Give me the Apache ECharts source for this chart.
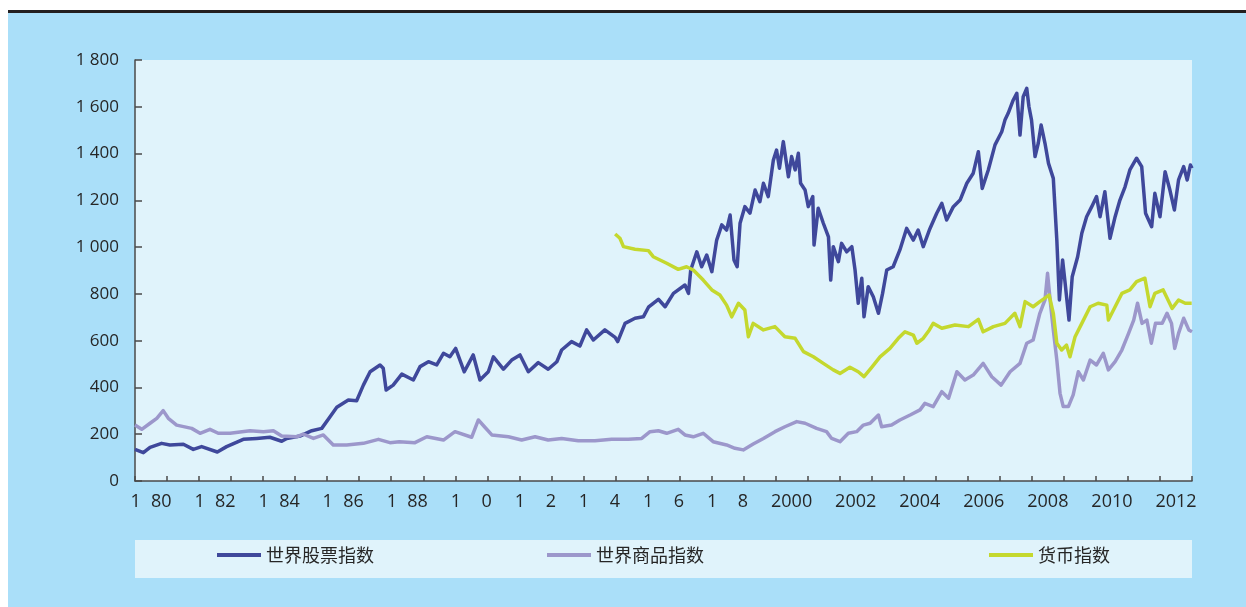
<!DOCTYPE html>
<html>
<head>
<meta charset="utf-8">
<script src="https://cdn.jsdelivr.net/npm/echarts@6/dist/echarts.min.js"></script>
<style>
  html, body { margin: 0; padding: 0; background: #ffffff; }
  #chart { width: 1246px; height: 607px; }
</style>
</head>
<body>
<div id="chart"></div>
<script>
// Calendar years shown as bands on the horizontal axis
const years = [];
for (let y = 1980; y <= 2012; y++) years.push(String(y));

// Labels printed under every second band (as typeset, with blank figures)
const yearLabels = {
  '1980': '1\u200780', '1982': '1\u200782', '1984': '1\u200784', '1986': '1\u200786', '1988': '1\u200788',
  '1990': '1\u2007\u20070', '1992': '1\u2007\u20072', '1994': '1\u2007\u20074', '1996': '1\u2007\u20076', '1998': '1\u2007\u20078',
  '2000': '2000', '2002': '2002', '2004': '2004', '2006': '2006', '2008': '2008', '2010': '2010', '2012': '2012'
};

const yTickLabels = ['0', '200', '400', '600', '800', '1 000', '1 200', '1 400', '1 600', '1 800'];

const seriesNames = ['世界股票指数', '世界商品指数', '货币指数'];

// [year, index level]
const stockIndex = [
  [1980.00,135],[1980.26,121],[1980.47,144],[1980.83,161],[1981.09,154],[1981.51,157],[1981.82,135],[1982.08,147],
  [1982.57,124],[1982.86,147],[1983.38,178],[1983.80,182],[1984.21,187],[1984.58,170],[1984.74,182],[1985.15,192],
  [1985.52,215],[1985.83,225],[1986.09,275],[1986.30,315],[1986.66,346],[1986.92,343],[1987.13,410],[1987.34,467],
  [1987.65,496],[1987.75,482],[1987.84,389],[1988.06,410],[1988.33,457],[1988.69,432],[1988.90,489],[1989.16,510],
  [1989.42,496],[1989.63,546],[1989.83,531],[1990.01,567],[1990.28,467],[1990.56,539],[1990.77,432],[1991.03,467],
  [1991.19,531],[1991.50,478],[1991.76,517],[1992.02,539],[1992.28,467],[1992.59,506],[1992.90,478],[1993.17,510],
  [1993.32,560],[1993.63,596],[1993.89,577],[1994.10,646],[1994.31,603],[1994.67,646],[1994.99,614],[1995.07,596],
  [1995.30,674],[1995.61,696],[1995.87,702],[1996.03,743],[1996.34,777],[1996.55,745],[1996.81,802],[1997.17,838],
  [1997.28,802],[1997.35,902],[1997.54,980],[1997.69,916],[1997.85,966],[1998.01,895],[1998.16,1030],[1998.32,1095],
  [1998.47,1073],[1998.58,1137],[1998.70,945],[1998.80,916],[1998.89,1102],[1999.04,1173],[1999.20,1145],[1999.36,1244],
  [1999.51,1194],[1999.62,1273],[1999.77,1216],[1999.93,1372],[2000.03,1415],[2000.12,1337],[2000.24,1451],[2000.40,1301],
  [2000.50,1387],[2000.61,1330],[2000.71,1401],[2000.78,1273],[2000.92,1244],[2001.02,1173],[2001.16,1216],[2001.20,1009],
  [2001.33,1166],[2001.49,1102],[2001.65,1044],[2001.72,859],[2001.80,1002],[2001.96,938],[2002.06,1016],[2002.22,980],
  [2002.38,1002],[2002.48,902],[2002.58,760],[2002.69,867],[2002.76,702],[2002.89,831],[2003.05,788],[2003.21,717],
  [2003.34,802],[2003.47,902],[2003.67,916],[2003.88,988],[2004.09,1080],[2004.30,1030],[2004.45,1073],[2004.61,1002],
  [2004.80,1073],[2005.03,1145],[2005.19,1187],[2005.34,1116],[2005.55,1173],[2005.76,1201],[2005.97,1273],[2006.17,1316],
  [2006.33,1408],[2006.45,1251],[2006.64,1330],[2006.85,1437],[2007.06,1493],[2007.16,1543],[2007.26,1572],[2007.42,1629],
  [2007.53,1658],[2007.63,1479],[2007.73,1643],[2007.84,1679],[2007.91,1600],[2007.99,1543],[2008.10,1387],[2008.20,1444],
  [2008.29,1522],[2008.41,1444],[2008.52,1358],[2008.67,1294],[2008.78,1030],[2008.86,774],[2008.96,945],[2009.04,845],
  [2009.16,688],[2009.26,873],[2009.43,959],[2009.56,1059],[2009.71,1130],[2009.87,1173],[2010.02,1216],[2010.13,1130],
  [2010.28,1237],[2010.44,1038],[2010.60,1130],[2010.75,1201],[2010.91,1258],[2011.06,1330],[2011.27,1380],[2011.43,1344],
  [2011.55,1145],[2011.74,1087],[2011.84,1230],[2012.00,1130],[2012.16,1322],[2012.31,1244],[2012.45,1159],[2012.58,1287],
  [2012.74,1344],[2012.85,1287],[2012.95,1351],[2013.00,1337]
];

const commodityIndex = [
  [1980.00,239],[1980.21,221],[1980.47,247],[1980.68,268],[1980.88,301],[1981.04,268],[1981.30,239],[1981.77,225],
  [1982.03,204],[1982.34,221],[1982.60,204],[1982.97,204],[1983.59,215],[1984.01,211],[1984.32,215],[1984.58,192],
  [1985.05,189],[1985.25,201],[1985.57,182],[1985.88,197],[1986.19,154],[1986.61,154],[1987.13,161],[1987.60,178],
  [1987.96,164],[1988.25,168],[1988.74,164],[1989.11,189],[1989.63,175],[1989.99,211],[1990.51,187],[1990.72,261],
  [1990.91,232],[1991.14,197],[1991.66,189],[1992.07,175],[1992.49,189],[1992.90,175],[1993.32,182],[1993.84,172],
  [1994.36,172],[1994.88,178],[1995.40,178],[1995.82,182],[1996.08,211],[1996.34,215],[1996.60,204],[1996.96,221],
  [1997.17,197],[1997.43,189],[1997.74,204],[1998.05,168],[1998.47,154],[1998.73,140],[1998.99,133],[1999.30,158],
  [1999.62,182],[1999.98,211],[2000.29,232],[2000.66,254],[2000.92,247],[2001.28,225],[2001.59,211],[2001.75,182],
  [2002.01,168],[2002.27,204],[2002.53,211],[2002.74,239],[2002.95,247],[2003.21,282],[2003.31,232],[2003.62,239],
  [2003.88,261],[2004.20,282],[2004.51,304],[2004.66,332],[2004.92,318],[2005.19,382],[2005.40,354],[2005.66,467],
  [2005.91,432],[2006.17,453],[2006.48,503],[2006.75,446],[2007.04,410],[2007.32,467],[2007.63,503],[2007.84,589],
  [2008.04,603],[2008.25,717],[2008.41,774],[2008.49,888],[2008.57,774],[2008.67,646],[2008.78,517],[2008.88,375],
  [2008.98,318],[2009.14,318],[2009.29,368],[2009.45,467],[2009.61,432],[2009.82,517],[2010.02,496],[2010.23,546],
  [2010.39,475],[2010.60,510],[2010.81,560],[2011.02,631],[2011.18,688],[2011.30,760],[2011.44,674],[2011.59,688],
  [2011.73,589],[2011.86,674],[2012.07,674],[2012.22,717],[2012.36,674],[2012.46,567],[2012.58,631],[2012.74,696],
  [2012.90,646],[2013.00,638]
];

const currencyIndex = [
  [1994.99,1056],[1995.14,1038],[1995.25,1002],[1995.61,991],[1996.03,985],[1996.18,959],[1996.39,945],[1996.60,931],
  [1996.96,905],[1997.22,916],[1997.43,902],[1997.74,859],[1998.01,817],[1998.26,795],[1998.47,752],[1998.63,702],
  [1998.84,760],[1999.04,731],[1999.15,617],[1999.30,674],[1999.62,646],[1999.98,660],[2000.29,617],[2000.61,610],
  [2000.87,553],[2001.18,531],[2001.49,503],[2001.80,475],[2002.01,460],[2002.32,486],[2002.58,467],[2002.76,446],
  [2003.00,486],[2003.26,531],[2003.57,567],[2003.83,610],[2004.04,638],[2004.30,624],[2004.41,589],[2004.61,610],
  [2004.80,646],[2004.92,674],[2005.19,653],[2005.60,667],[2006.02,660],[2006.33,691],[2006.48,638],[2006.80,660],
  [2007.16,674],[2007.47,717],[2007.63,660],[2007.79,767],[2008.04,745],[2008.25,767],[2008.54,795],[2008.67,717],
  [2008.78,589],[2008.93,560],[2009.08,581],[2009.19,531],[2009.35,617],[2009.56,674],[2009.82,745],[2010.07,760],
  [2010.34,752],[2010.39,688],[2010.60,745],[2010.81,802],[2011.06,817],[2011.27,852],[2011.53,867],[2011.69,745],
  [2011.84,802],[2012.10,817],[2012.38,738],[2012.58,774],[2012.79,760],[2012.99,760]
];

const colors = ['#3F489B', '#9C97CB', '#C4D82E'];
const axisColor = '#4a4a4a';
const textColor = '#262626';
const latinFont = '"Open Sans", "Noto Sans", sans-serif';
const cjkFont = '"Noto Sans CJK SC", sans-serif';

const chart = echarts.init(document.getElementById('chart'), null, { renderer: 'canvas' });

function legendAt(idx, left) {
  return {
    data: [seriesNames[idx]],
    left: left,
    top: 546,
    padding: 0,
    icon: 'rect',
    itemWidth: 44,
    itemHeight: 4,
    selectedMode: false,
    textStyle: { color: textColor, fontFamily: cjkFont, fontSize: 18 }
  };
}

chart.setOption({
  animation: false,
  backgroundColor: '#ffffff',
  graphic: [
    { type: 'rect', z: -10, shape: { x: 8, y: 13, width: 1238, height: 594 }, style: { fill: '#AADFF9' } },
    { type: 'rect', z: -9, shape: { x: 8, y: 10, width: 1238, height: 3 }, style: { fill: '#231F20' } },
    { type: 'rect', z: -8, shape: { x: 135, y: 540, width: 1057, height: 38 }, style: { fill: '#E0F3FB' } }
  ],
  legend: [legendAt(0, 217), legendAt(1, 547), legendAt(2, 989)],
  grid: {
    left: 135, right: 54, top: 60, bottom: 126,
    show: true, backgroundColor: '#E0F3FB', borderWidth: 0
  },
  xAxis: [
    { type: 'value', min: 1980, max: 2013, show: false },
    {
      type: 'category', data: years, boundaryGap: true, position: 'bottom',
      axisLine: { show: true, lineStyle: { color: axisColor, width: 1.5 } },
      axisTick: { show: true, inside: true, length: 5, interval: 0, lineStyle: { color: axisColor, width: 1.5 } },
      axisLabel: {
        interval: 0, margin: 12, color: textColor, fontFamily: latinFont, fontSize: 18,
        formatter: v => yearLabels[v] || ''
      },
      splitLine: { show: false }
    }
  ],
  yAxis: {
    type: 'value', min: 0, max: 1800, interval: 200,
    axisLine: { show: true, lineStyle: { color: axisColor, width: 1.5 } },
    axisTick: { show: true, inside: true, length: 7, lineStyle: { color: axisColor, width: 1.5 } },
    axisLabel: {
      margin: 16, color: textColor, fontFamily: latinFont, fontSize: 17,
      formatter: v => yTickLabels[Math.round(v / 200)]
    },
    splitLine: { show: false }
  },
  series: [
    { name: seriesNames[0], data: stockIndex },
    { name: seriesNames[1], data: commodityIndex },
    { name: seriesNames[2], data: currencyIndex }
  ].map((s, i) => ({
    type: 'line', name: s.name, data: s.data, xAxisIndex: 0,
    showSymbol: false, symbol: 'none',
    itemStyle: { color: colors[i] },
    lineStyle: { color: colors[i], width: 3.5, join: 'round' }
  }))
});
</script>
</body>
</html>
